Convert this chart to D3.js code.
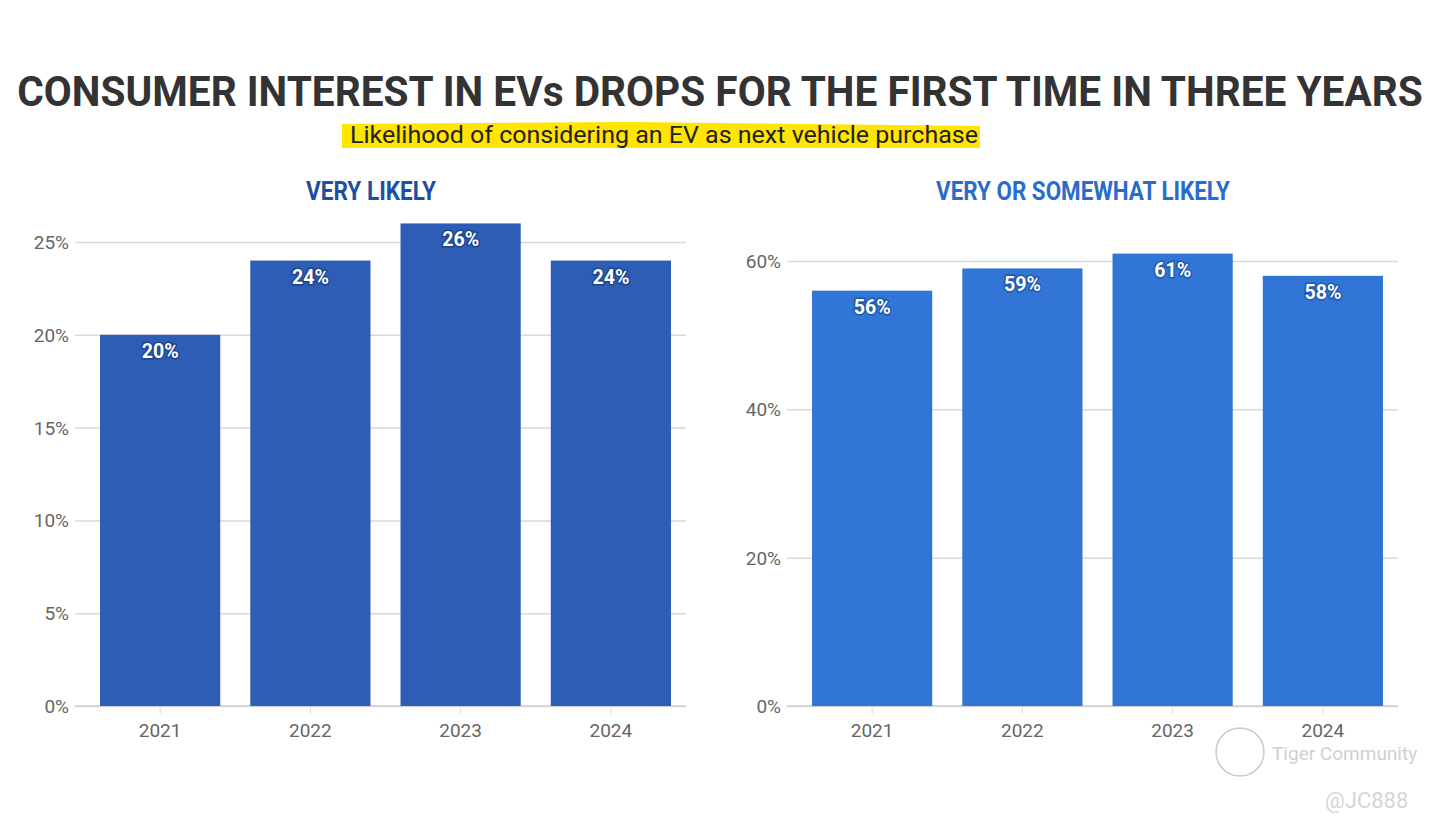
<!DOCTYPE html>
<html>
<head>
<meta charset="utf-8">
<title>Consumer interest in EVs</title>
<script src="https://d3js.org/d3.v7.min.js"></script>
<style>
  body { margin: 0; background: #fff; }
  svg { display: block; font-family: Roboto, "Liberation Sans", sans-serif; }
</style>
</head>
<body>
<svg id="chart" width="1447" height="833"></svg>
<script>
// data
var years = ["2021", "2022", "2023", "2024"];
var veryLikely = [20, 24, 26, 24];
var somewhatLikely = [56, 59, 61, 58];
var leftTicks = [0, 5, 10, 15, 20, 25];
var rightTicks = [0, 20, 40, 60];

var svg = d3.select("#chart");

// fit a text horizontally to a given width (the reference uses a condensed face)
function squeeze(sel, cx, cy, w) {
  sel.each(function() {
    var real = this.getComputedTextLength();
    var k = w / real;
    d3.select(this).attr("x", 0).attr("y", 0)
      .attr("transform", "translate(" + cx + "," + cy + ") scale(" + k + ",1)");
  });
}

// title
svg.append("text")
  .attr("text-anchor", "middle")
  .style("font-size", "43px").style("font-weight", "bold")
  .style("fill", "#333")
  .text("CONSUMER INTEREST IN EVs DROPS FOR THE FIRST TIME IN THREE YEARS")
  .call(squeeze, 720, 106, 1406);

// subtitle with highlighter
svg.append("path")
  .attr("d", "M342,124 L630,122 L980,126 L980,148 L342,148 Z")
  .attr("fill", "#ffe500");
svg.append("text")
  .attr("text-anchor", "middle")
  .style("font-size", "24px").style("fill", "#222")
  .text("Likelihood of considering an EV as next vehicle purchase")
  .call(squeeze, 664, 143, 628);

function drawPanel(opts) {
  var g = svg.append("g");

  var x = d3.scaleBand().domain(years)
    .range([opts.x0, opts.x1]).paddingInner(0.2).paddingOuter(0.1);
  var y = d3.scaleLinear().domain([0, opts.max]).range([706, 242]);

  g.append("text")
    .attr("text-anchor", "middle")
    .style("font-size", "25px").style("font-weight", "bold")
    .style("fill", opts.titleColor)
    .text(opts.title)
    .call(squeeze, opts.titleX, 200, opts.titleW);

  // gridlines
  var ya = g.append("g").attr("transform", "translate(" + opts.x1 + ",0)")
    .call(d3.axisRight(y).tickValues(opts.ticks).tickSize(-(opts.x1 - opts.gx0)).tickFormat(""));
  ya.select(".domain").remove();
  ya.selectAll("line").attr("stroke", "#d9d9d9").attr("stroke-width", 1.5);

  g.selectAll(".ylab").data(opts.ticks).enter().append("text")
    .attr("x", opts.gx0 - 6).attr("y", d => y(d) + 7)
    .attr("text-anchor", "end")
    .style("font-size", "19px").style("fill", "#666")
    .text(d => d + "%");

  // x axis
  var xa = g.append("g").attr("transform", "translate(0,706)")
    .call(d3.axisBottom(x).tickSize(8).tickSizeOuter(0));
  xa.select(".domain").remove();
  xa.selectAll("line").attr("stroke", "#ddd");
  xa.selectAll("text").attr("dy", "1.05em")
    .style("font-size", "19px").style("fill", "#666")
    .style("font-family", "Roboto, sans-serif");
  g.append("line")
    .attr("x1", opts.gx0).attr("x2", opts.x1)
    .attr("y1", 706).attr("y2", 706)
    .attr("stroke", "#d0d0d0").attr("stroke-width", 1.5);

  g.selectAll(".bar").data(opts.values).enter().append("rect")
    .attr("x", (d, i) => x(years[i]))
    .attr("width", x.bandwidth())
    .attr("y", d => y(d))
    .attr("height", d => 706 - y(d))
    .attr("fill", opts.barColor);

  g.selectAll(".val").data(opts.values).enter().append("text")
    .attr("text-anchor", "middle")
    .style("font-size", "20px").style("font-weight", "bold")
    .style("fill", "#fff")
    .style("paint-order", "stroke")
    .style("stroke", opts.haloColor).style("stroke-width", "3px")
    .text(d => d + "%")
    .each(function(d, i) {
      d3.select(this).call(squeeze, x(years[i]) + x.bandwidth() / 2, y(d) + 23, 37);
    });
}

drawPanel({
  values: veryLikely, ticks: leftTicks, max: 25,
  x0: 85, x1: 686, gx0: 75,
  title: "VERY LIKELY", titleX: 371, titleW: 130,
  titleColor: "#1f4fa3", barColor: "#2d5db4", haloColor: "#1d4590"
});

drawPanel({
  values: somewhatLikely, ticks: rightTicks, max: 60 * 464 / 445,
  x0: 797, x1: 1398, gx0: 787,
  title: "VERY OR SOMEWHAT LIKELY", titleX: 1083, titleW: 294,
  titleColor: "#2a6ccc", barColor: "#3176d6", haloColor: "#1f58ad"
});

// watermark
svg.append("circle").attr("cx", 1240).attr("cy", 752).attr("r", 24)
  .attr("stroke", "#c8c8c8").attr("stroke-width", 1.5).attr("fill", "none");
svg.append("text").attr("x", 1272).attr("y", 760)
  .style("font-size", "19px").style("fill", "#d0d0d0")
  .text("Tiger Community");
svg.append("text").attr("x", 1325).attr("y", 808)
  .style("font-size", "22px").style("fill", "#d6d6d6")
  .text("@JC888");
</script>
</body>
</html>
